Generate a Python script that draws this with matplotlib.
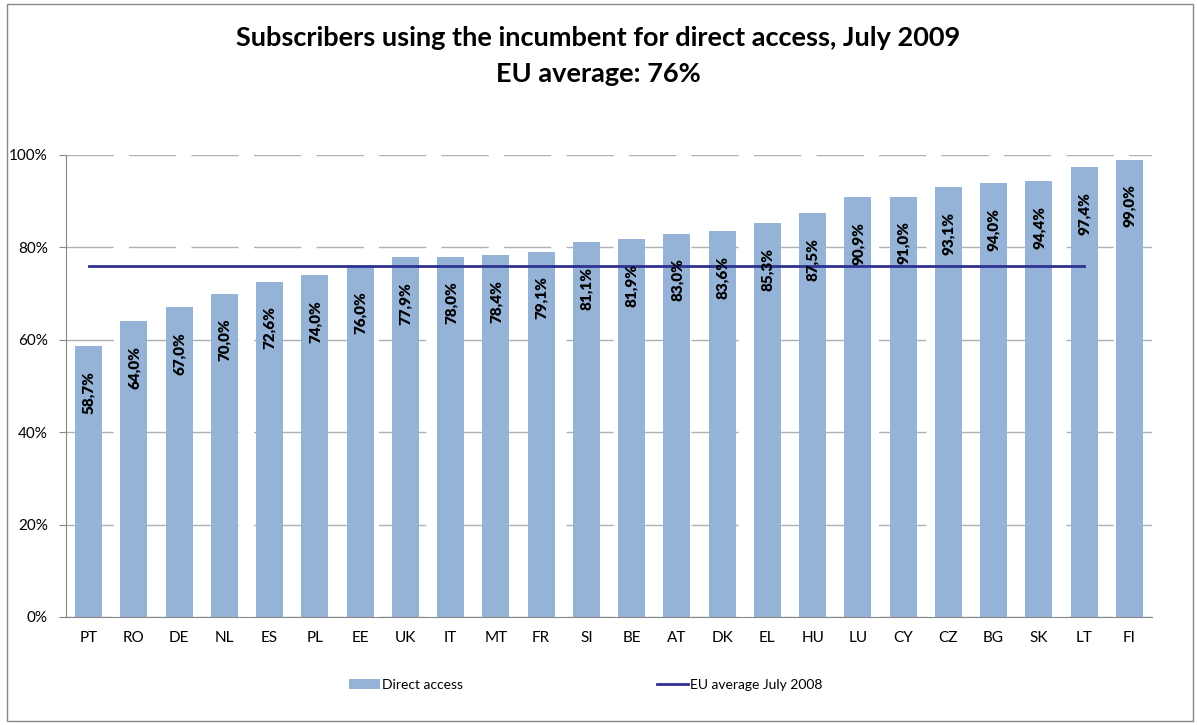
import numpy as np
import matplotlib.pyplot as plt
from matplotlib.patches import Rectangle

countries = ["PT", "RO", "DE", "NL", "ES", "PL", "EE", "UK", "IT", "MT", "FR", "SI",
             "BE", "AT", "DK", "EL", "HU", "LU", "CY", "CZ", "BG", "SK", "LT", "FI"]
direct = [58.7, 64.0, 67.0, 70.0, 72.6, 74.0, 76.0, 77.9, 78.0, 78.4, 79.1, 81.1,
          81.9, 83.0, 83.6, 85.3, 87.5, 90.9, 91.0, 93.1, 94.0, 94.4, 97.4, 99.0]
eu_avg_2008 = 76.0

plt.rcParams['font.family'] = ['Lato', 'DejaVu Sans']

fig = plt.figure(figsize=(11.97, 7.25), dpi=100)
ax = fig.add_axes([66 / 1197, 1 - 617 / 725, 1086 / 1197, 462 / 725])

x = np.arange(len(countries))
bars = ax.bar(x, direct, width=0.6, color='#95b3d7', zorder=2, label='Direct access')
line, = ax.plot(x[:-1], [eu_avg_2008] * (len(x) - 1), color='#2e3192', lw=2, zorder=3,
                label='EU average July 2008')

# value labels, rotated, inside the top of each bar
for xi, v in zip(x, direct):
    ax.annotate(f"{v:.1f}%".replace('.', ','), (xi, v), xytext=(0, -18),
                textcoords='offset points', rotation=90, ha='center', va='top',
                fontsize=11, fontweight='heavy', zorder=4)

ax.set_xlim(-0.5, len(x) - 0.5)
ax.set_ylim(0, 100)
ax.set_yticks(range(0, 101, 20))
ax.set_yticklabels([f"{t}%" for t in range(0, 101, 20)], fontsize=11)
ax.set_xticks(x)
ax.set_xticklabels(countries, fontsize=11)
ax.tick_params(axis='x', length=0, pad=10)
ax.tick_params(axis='y', length=5, direction='out', color='#888888', pad=8)
ax.yaxis.grid(True, color='#b0b0b0', lw=1, linestyle=(0, (34, 11)), zorder=0)
for s in ['top', 'right']:
    ax.spines[s].set_visible(False)
ax.spines['left'].set_color('#888888')
ax.spines['bottom'].set_color('#888888')

fig.text(0.5, 1 - 38 / 725, "Subscribers using the incumbent for direct access, July 2009",
         ha='center', va='center', fontsize=19.5, fontweight='bold')
fig.text(0.5, 1 - 74 / 725, "EU average: 76%", ha='center', va='center',
         fontsize=19.5, fontweight='bold')

fig.legend([bars, line], ['Direct access', 'EU average July 2008'], loc='center',
           bbox_to_anchor=(0.5 - 13 / 1197, 1 - 685 / 725), ncol=2, frameon=False,
           fontsize=10, columnspacing=14, handlelength=2.2, handletextpad=0.15)

fig.add_artist(Rectangle((7 / 1197, 4 / 725), 1186 / 1197, 717 / 725, fill=False,
                         edgecolor='#888888', lw=1, transform=fig.transFigure))

fig.savefig("out.png", dpi=100)
